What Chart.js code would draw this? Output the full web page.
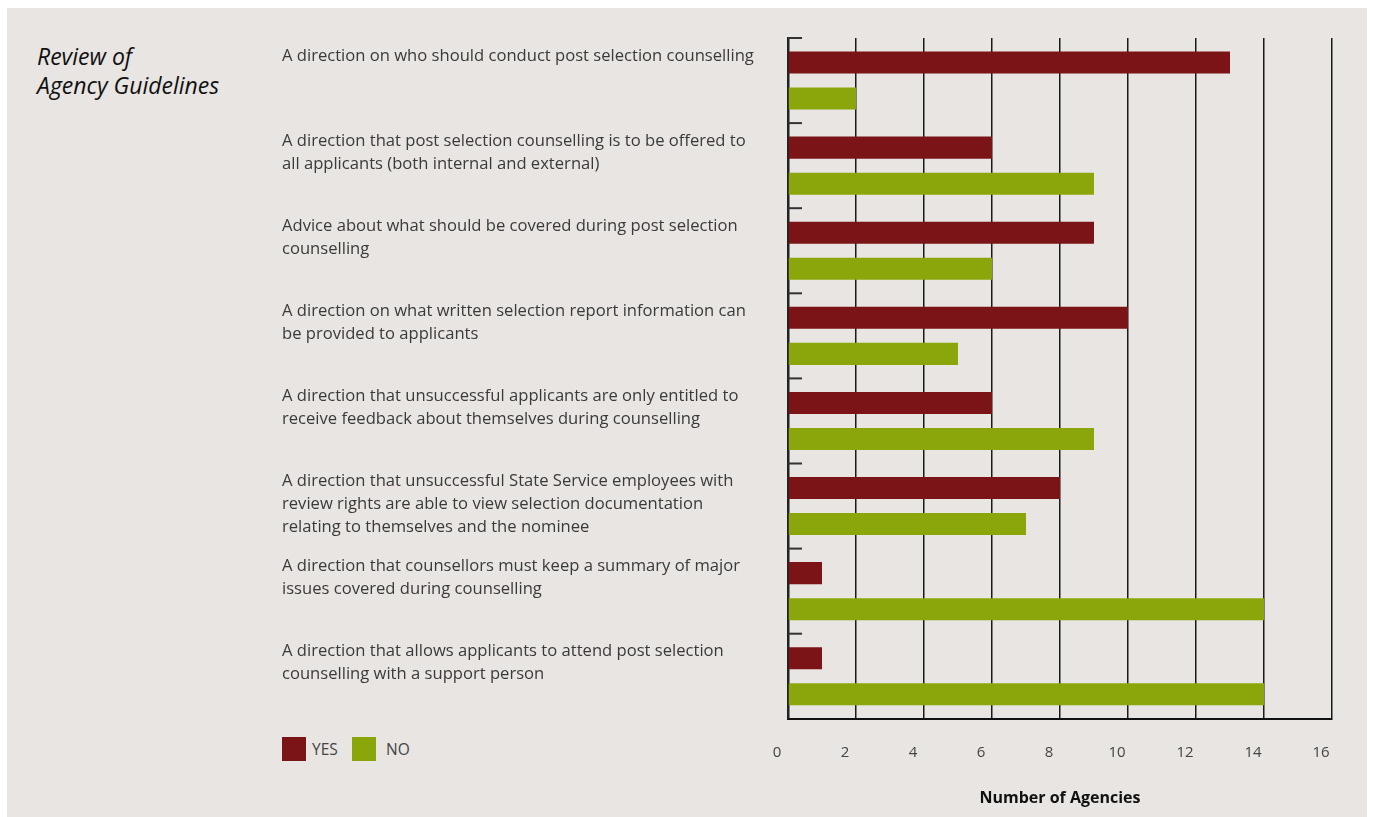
<!DOCTYPE html>
<html>
<head>
<meta charset="utf-8">
<script src="https://cdn.jsdelivr.net/npm/chart.js@4.4.0/dist/chart.umd.min.js"></script>
<style>
    body { margin: 0; background: #ffffff; font-family: "Open Sans", sans-serif; }
    #painel { position: absolute; left: 7px; top: 8px; width: 1360px; height: 809px; background: #e8e5e2; }
    #titulo { position: absolute; left: 37px; top: 42px; font-style: italic; font-size: 23px; line-height: 29px; color: #111; }
    .quadrado { position: absolute; top: 737px; width: 24px; height: 24px; }
    .legenda_texto { position: absolute; top: 738px; font-size: 15.5px; line-height: 22px; color: #444; }
    #div_grafico { position: absolute; left: 0; top: 0; width: 1373px; height: 817px; }
</style>
</head>
<body>
<div id="painel"></div>
<div id="titulo">Review of<br>Agency Guidelines</div>
<div class="quadrado" style="left:282px; background:#7a1416;"></div>
<div class="legenda_texto" style="left:312px;">YES</div>
<div class="quadrado" style="left:352px; background:#8ba60a;"></div>
<div class="legenda_texto" style="left:386px;">NO</div>
<div id="div_grafico"><canvas id="grafico"></canvas></div>

<script>
// categorias (uma lista de linhas por pergunta)
const categorias = [
    ["A direction on who should conduct post selection counselling"],
    ["A direction that post selection counselling is to be offered to", "all applicants (both internal and external)"],
    ["Advice about what should be covered during post selection", "counselling"],
    ["A direction on what written selection report information can", "be provided to applicants"],
    ["A direction that unsuccessful applicants are only entitled to", "receive feedback about themselves during counselling"],
    ["A direction that unsuccessful State Service employees with", "review rights are able to view selection documentation", "relating to themselves and the nominee"],
    ["A direction that counsellors must keep a summary of major", "issues covered during counselling"],
    ["A direction that allows applicants to attend post selection", "counselling with a support person"]
];
const valores_sim = [13, 6, 9, 10, 6, 8, 1, 1];
const valores_nao = [2, 9, 6, 5, 9, 7, 14, 14];
const ticks_x = [0, 2, 4, 6, 8, 10, 12, 14, 16];

//desenha os rótulos das perguntas e as marcas de categoria
const pluginRotulos = {
    id: 'rotulos',
    afterDraw(chart) {
        const ctx = chart.ctx;
        const y = chart.scales.y;
        const meio = (y.getPixelForValue(1) - y.getPixelForValue(0)) / 2;
        ctx.save();
        ctx.font = '16.6px "Open Sans"';
        ctx.fillStyle = '#3a3a3a';
        ctx.textAlign = 'left';
        ctx.textBaseline = 'middle';
        categorias.forEach((linhas, i) => {
            const topo = y.getPixelForValue(i) - meio;
            linhas.forEach((l, j) => ctx.fillText(l, 282, topo + 18 + j * 23));
            ctx.strokeStyle = '#333';
            ctx.lineWidth = 2;
            ctx.beginPath();
            ctx.moveTo(chart.chartArea.left, topo);
            ctx.lineTo(chart.chartArea.left + 14, topo);
            ctx.stroke();
        });
        ctx.restore();
    }
};

const graficoBarra = new Chart(document.getElementById('grafico'), {
    type: 'bar',
    data: {
        labels: categorias,
        datasets: [{
            label: 'YES',
            backgroundColor: '#7a1416',
            borderWidth: 0,
            data: valores_sim
        }, {
            label: 'NO',
            backgroundColor: '#8ba60a',
            borderWidth: 0,
            data: valores_nao
        }]
    },
    options: {
        indexAxis: 'y',
        responsive: true,
        maintainAspectRatio: false,
        animation: false,
        barPercentage: 0.611,
        categoryPercentage: 0.847,
        layout: { padding: { left: 788, top: 38, right: 41, bottom: 9 } },
        plugins: {
            legend: { display: false },
            tooltip: { enabled: false }
        },
        scales: {
            x: {
                type: 'linear',
                min: 0,
                max: 16,
                afterBuildTicks: (eixo) => { eixo.ticks = ticks_x.map(v => ({ value: v })); },
                grid: { color: '#1a1a1a', lineWidth: 1.5, drawTicks: false },
                border: { color: '#111', width: 2 },
                ticks: {
                    padding: 25,
                    labelOffset: -11,
                    color: '#444',
                    font: { family: 'Open Sans', size: 15 }
                },
                title: {
                    display: true,
                    text: 'Number of Agencies',
                    color: '#111',
                    padding: { top: 2, bottom: 0 },
                    font: { family: 'Open Sans', size: 16, weight: 'bold' }
                }
            },
            y: {
                grid: { display: true, drawOnChartArea: false, drawTicks: false, color: 'rgba(0,0,0,0)' },
                border: { color: '#222', width: 2.5 },
                ticks: { display: false }
            }
        }
    },
    plugins: [pluginRotulos]
});
</script>
</body>
</html>
